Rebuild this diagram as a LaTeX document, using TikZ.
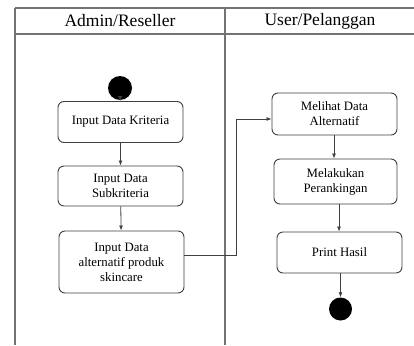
\documentclass[tikz,border=0pt]{standalone}
\usepackage{fontspec}
\setmainfont{Liberation Serif}
\usetikzlibrary{arrows.meta}
\begin{document}
\begin{tikzpicture}[x=1pt,y=-1pt,
  lane/.style={draw=black!55,line width=1.2pt},
  act/.style={draw=black!75,line width=0.9pt,rounded corners=6pt,align=center,
    font=\fontsize{12.8}{15}\selectfont,inner sep=0pt},
  flow/.style={draw=black!75,line width=0.8pt,-{Latex[length=5pt,width=4pt]}},
  dot/.style={circle,fill=black,minimum size=24pt,inner sep=0pt},
  hdr/.style={font=\fontsize{17.5}{20}\selectfont}]
\useasboundingbox (0,0) rectangle (414,345);
\fill[white] (0,0) rectangle (414,345);
% swimlane frame
\draw[lane] (15,8) -- (414,8);
\draw[lane] (15,34) -- (414,34);
\draw[lane] (15,8) -- (15,345);
\draw[lane] (225,8) -- (225,345);
\node[hdr] (h1) at (120,21) {Admin/Reseller};
\node[hdr] (h2) at (320,21) {User/Pelanggan};
% admin lane
\node[dot] (start) at (120,88) {};
\node[act,minimum width=125pt,minimum height=41pt] (a1) at (120.5,122) {Input Data Kriteria};
\node[act,minimum width=125pt,minimum height=40pt] (a2) at (120.5,186) {Input Data\\Subkriteria};
\node[act,minimum width=125pt,minimum height=62pt] (a3) at (121.5,262) {Input Data\\alternatif produk\\skincare};
% user lane
\node[act,minimum width=125pt,minimum height=42pt] (b1) at (334.5,114) {Melihat Data\\Alternatif};
\node[act,minimum width=123pt,minimum height=45pt] (b2) at (335.5,181.5) {Melakukan\\Perankingan};
\node[act,minimum width=125pt,minimum height=41pt] (b3) at (339.5,252.5) {Print Hasil};
\node[dot,minimum size=23pt] (stop) at (340.5,309) {};
% flows
\coordinate (x1) at (334,0);
\coordinate (x2) at (339,0);
\coordinate (x3) at (340.5,0);
\draw[flow] (start) -- (a1);
\draw[flow] (a1) -- (a2);
\draw[flow] (a2) -- (a3);
\coordinate (c1) at (236,255);
\coordinate (c2) at (236,119);
\draw[flow] (a3.east |- c1) -- (c1) -- (c2) -- (b1.west |- c2);
\draw[flow] (b1.south -| x1) -- (b2.north -| x1);
\draw[flow] (b2.south -| x2) -- (b3.north -| x2);
\draw[flow] (b3.south -| x3) -- (stop);
\end{tikzpicture}
\end{document}
